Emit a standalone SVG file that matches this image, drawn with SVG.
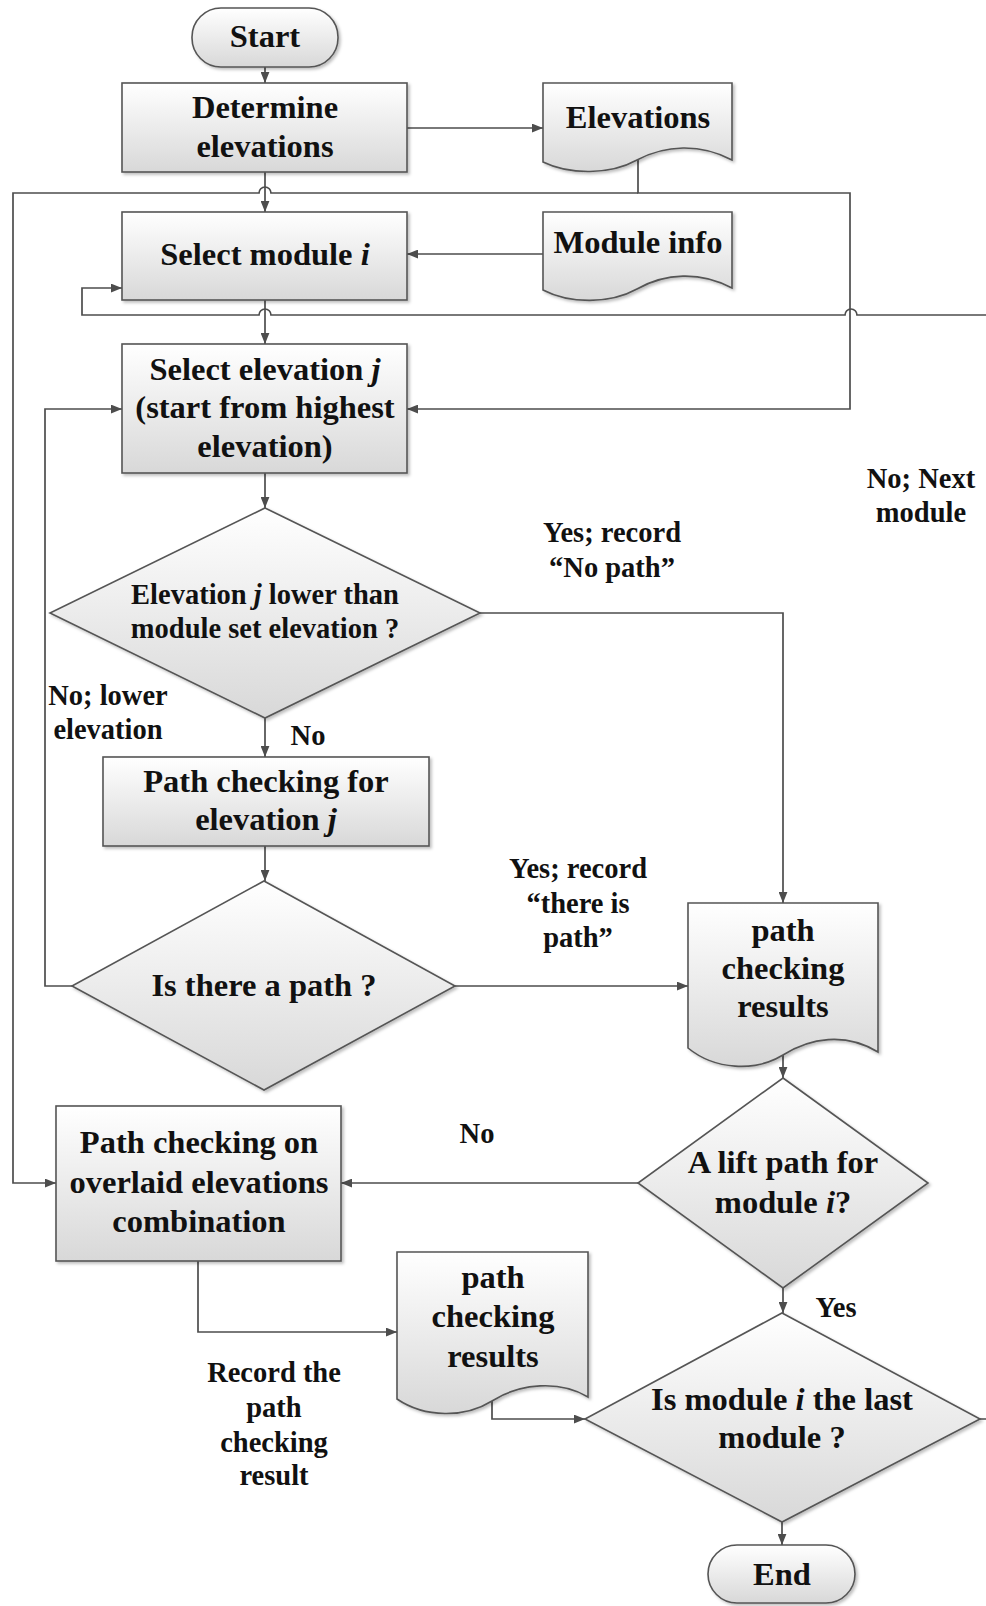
<svg xmlns="http://www.w3.org/2000/svg" width="986" height="1606" viewBox="0 0 986 1606">
  <style>
    .shape { fill: url(#shade); stroke: #555; stroke-width: 1.6; filter: url(#shadow); }
    .link { fill: none; stroke: #4d4d4d; stroke-width: 1.7; }
    .arrow { marker-end: url(#head); }
    text { font-family: "Liberation Serif", "Times New Roman", serif; font-weight: bold; fill: #111; text-anchor: middle; }
    .t { font-size: 32.5px; }
    .s { font-size: 28.5px; }
    .it { font-style: italic; }
  </style>
  <defs>
    <linearGradient id="shade" x1="0" y1="0" x2="0" y2="1">
      <stop offset="0" stop-color="#ffffff"/>
      <stop offset="1" stop-color="#d8d8d8"/>
    </linearGradient>
    <filter id="shadow" x="-5%" y="-5%" width="115%" height="115%">
      <feDropShadow dx="2" dy="2" stdDeviation="1.5" flood-color="#000" flood-opacity="0.25"/>
    </filter>
    <marker id="head" viewBox="0 0 10 8" refX="10" refY="4" markerWidth="11" markerHeight="9" markerUnits="userSpaceOnUse" orient="auto">
      <path d="M0,0 L10,4 L0,8 Z" fill="#4d4d4d"/>
    </marker>
  </defs>

  <!-- connectors -->
  <g id="connectors">
    <path class="link arrow" d="M265,67 V83"/>
    <path class="link arrow" d="M407,128 H543"/>
    <path class="link arrow" d="M265,172 V212"/>
    <path class="link arrow" d="M543,254 H407"/>
    <path class="link arrow" d="M265,300 V344"/>
    <path class="link arrow" d="M265,473 V508"/>
    <path class="link arrow" d="M480,613 H783 V903"/>
    <path class="link arrow" d="M265,718 V757"/>
    <path class="link arrow" d="M265,846 V881"/>
    <path class="link arrow" d="M455,986 H688"/>
    <path class="link arrow" d="M72,986 H45 V409 H122"/>
    <path class="link arrow" d="M638,160 V193 H850 V409 H407"/>
    <path class="link arrow" d="M638,193 H271 A6,6 0 0 0 259,193 H13 V1183 H56"/>
    <path class="link arrow" d="M783,1055 V1078"/>
    <path class="link arrow" d="M638,1183 H341"/>
    <path class="link arrow" d="M783,1288 V1313"/>
    <path class="link arrow" d="M198,1261 V1332 H397"/>
    <path class="link arrow" d="M492,1401 V1419 H585"/>
    <path class="link arrow" d="M782,1522 V1545"/>
    <path class="link arrow" d="M980,1419 H996 V315 H857 A6,6 0 0 0 845,315 H271 A6,6 0 0 0 259,315 H82 V288 H122"/>
  </g>

  <!-- edge labels -->
  <g id="labels">
    <text class="s" x="612" y="542">Yes; record</text>
    <text class="s" x="612" y="577">“No path”</text>
    <text class="s" x="921" y="488">No; Next</text>
    <text class="s" x="921" y="522">module</text>
    <text class="s" x="108" y="705">No; lower</text>
    <text class="s" x="108" y="739">elevation</text>
    <text class="s" x="308" y="745">No</text>
    <text class="s" x="578" y="878">Yes; record</text>
    <text class="s" x="578" y="913">“there is</text>
    <text class="s" x="578" y="947">path”</text>
    <text class="s" x="477" y="1143">No</text>
    <text class="s" x="836" y="1317">Yes</text>
    <text class="s" x="274" y="1382">Record the</text>
    <text class="s" x="274" y="1417">path</text>
    <text class="s" x="274" y="1452">checking</text>
    <text class="s" x="274" y="1485">result</text>
  </g>

  <g id="start">
    <rect class="shape" x="192" y="8" width="146" height="59" rx="29" ry="29"/>
    <text class="t" x="265" y="47">Start</text>
  </g>

  <g id="determine-elevations">
    <rect class="shape" x="122" y="83" width="285" height="89"/>
    <text class="t" x="265" y="118">Determine</text>
    <text class="t" x="265" y="157">elevations</text>
  </g>

  <g id="elevations-doc">
    <path class="shape" d="M543,83 H732 V160 C700,143 665,145 637,160 C610,175 570,175 543,162 Z"/>
    <text class="t" x="638" y="128">Elevations</text>
  </g>

  <g id="select-module">
    <rect class="shape" x="122" y="212" width="285" height="88"/>
    <text class="t" x="265" y="265">Select module <tspan class="it">i</tspan></text>
  </g>

  <g id="module-info-doc">
    <path class="shape" d="M543,212 H732 V288 C700,271 665,273 637,289 C610,304 570,304 543,290 Z"/>
    <text class="t" x="638" y="253">Module info</text>
  </g>

  <g id="select-elevation">
    <rect class="shape" x="122" y="344" width="285" height="129"/>
    <text class="t" x="265" y="380">Select elevation <tspan class="it">j</tspan></text>
    <text class="t" x="265" y="418">(start from highest</text>
    <text class="t" x="265" y="457">elevation)</text>
  </g>

  <g id="elevation-lower">
    <polygon class="shape" points="265,508 480,613 265,718 50,613"/>
    <text class="s" x="265" y="604">Elevation <tspan class="it">j</tspan> lower than</text>
    <text class="s" x="265" y="638">module set elevation ?</text>
  </g>

  <g id="path-check-elevation">
    <rect class="shape" x="103" y="757" width="326" height="89"/>
    <text class="t" x="266" y="792">Path checking for</text>
    <text class="t" x="266" y="830">elevation <tspan class="it">j</tspan></text>
  </g>

  <g id="is-there-path">
    <polygon class="shape" points="264,881 455,986 264,1090 72,986"/>
    <text class="t" x="264" y="996">Is there a path ?</text>
  </g>

  <g id="results-doc-1">
    <path class="shape" d="M688,903 H878 V1052 C845,1032 810,1038 783,1055 C755,1072 715,1070 688,1048 Z"/>
    <text class="t" x="783" y="941">path</text>
    <text class="t" x="783" y="979">checking</text>
    <text class="t" x="783" y="1017">results</text>
  </g>

  <g id="lift-path">
    <polygon class="shape" points="783,1078 928,1183 783,1288 638,1183"/>
    <text class="t" x="783" y="1173">A lift path for</text>
    <text class="t" x="783" y="1213">module <tspan class="it">i</tspan>?</text>
  </g>

  <g id="overlaid-check">
    <rect class="shape" x="56" y="1106" width="285" height="155"/>
    <text class="t" x="199" y="1153">Path checking on</text>
    <text class="t" x="199" y="1193">overlaid elevations</text>
    <text class="t" x="199" y="1232">combination</text>
  </g>

  <g id="results-doc-2">
    <path class="shape" d="M397,1252 H588 V1397 C560,1380 520,1383 492,1401 C465,1418 425,1418 397,1399 Z"/>
    <text class="t" x="493" y="1288">path</text>
    <text class="t" x="493" y="1327">checking</text>
    <text class="t" x="493" y="1367">results</text>
  </g>

  <g id="last-module">
    <polygon class="shape" points="782,1313 980,1419 782,1522 585,1419"/>
    <text class="t" x="782" y="1410">Is module <tspan class="it">i</tspan> the last</text>
    <text class="t" x="782" y="1448">module ?</text>
  </g>

  <g id="end">
    <rect class="shape" x="708" y="1545" width="147" height="58" rx="29" ry="29"/>
    <text class="t" x="782" y="1585">End</text>
  </g>
</svg>
